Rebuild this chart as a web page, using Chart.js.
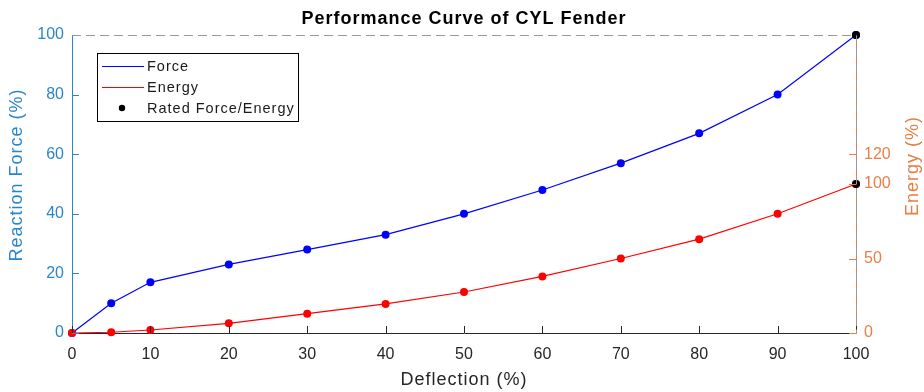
<!DOCTYPE html>
<html>
<head>
<meta charset="UTF-8">
<title>Performance Curve of CYL Fender</title>
<script src="https://cdn.jsdelivr.net/npm/chart.js"></script>
<style>
  html, body { margin: 0; padding: 0; background: #fff; }
  #wrap { position: relative; width: 924px; height: 392px; }
</style>
</head>
<body>
<div id="wrap"><canvas id="curve"></canvas></div>
<script>
// fender test data, all in % of rated values
const deflection = [0, 5, 10, 20, 30, 40, 50, 60, 70, 80, 90, 100];
const force = [0, 10, 17, 23, 28, 33, 40, 48, 57, 67, 80, 100];
const energy = [0, 0.5, 2, 6.5, 13, 19.5, 27.5, 38, 50, 63, 80, 100];
const ratedDeflection = [100];
const ratedForce = [100];
const ratedEnergy = [100];

const deflectionTicks = [0, 10, 20, 30, 40, 50, 60, 70, 80, 90, 100];
const forceTicks = [0, 20, 40, 60, 80, 100];
const energyTicks = [0, 50, 100, 120];

const FONT = "'Liberation Sans', Arial, Helvetica, sans-serif";
const LEFT_COL = '#2a86cc';
const RIGHT_COL = '#e67e45';
const AXIS_COL = '#262626';

const pts = (xs, ys) => xs.map((x, i) => ({ x: x, y: ys[i] }));

function spacedText(ctx, text, x, y, angle) {
  ctx.save();
  ctx.translate(x, y);
  ctx.rotate(angle || 0);
  ctx.letterSpacing = '1px';
  ctx.fillText(text, 0, 0);
  ctx.restore();
}

// tick marks pointing into the plot, dashed rated lines, titles, legend
const decorations = {
  id: 'decorations',
  afterDraw(chart) {
    const ctx = chart.ctx;
    const { left, right, top, bottom } = chart.chartArea;
    const sx = chart.scales.x, sy = chart.scales.y, sy1 = chart.scales.y1;
    ctx.save();
    ctx.lineWidth = 1;

    ctx.strokeStyle = AXIS_COL;
    deflectionTicks.forEach(v => {
      const px = Math.round(sx.getPixelForValue(v)) + 0.5;
      ctx.beginPath(); ctx.moveTo(px, bottom); ctx.lineTo(px, bottom - 7); ctx.stroke();
    });
    ctx.strokeStyle = LEFT_COL;
    forceTicks.forEach(v => {
      const py = Math.round(sy.getPixelForValue(v)) + 0.5;
      ctx.beginPath(); ctx.moveTo(left, py); ctx.lineTo(left + 7, py); ctx.stroke();
    });
    ctx.strokeStyle = RIGHT_COL;
    energyTicks.forEach(v => {
      const py = Math.round(sy1.getPixelForValue(v)) + 0.5;
      ctx.beginPath(); ctx.moveTo(right, py); ctx.lineTo(right - 7, py); ctx.stroke();
    });

    // dashed guides through the rated point
    const rx = Math.round(sx.getPixelForValue(ratedDeflection[0])) + 0.5;
    const ry = Math.round(sy.getPixelForValue(ratedForce[0])) + 0.5;
    ctx.strokeStyle = '#999';
    ctx.setLineDash([9, 5]);
    ctx.beginPath(); ctx.moveTo(left, ry); ctx.lineTo(rx, ry); ctx.stroke();
    ctx.beginPath(); ctx.moveTo(rx, ry); ctx.lineTo(rx, bottom); ctx.stroke();
    ctx.setLineDash([]);

    ctx.textAlign = 'center';
    ctx.textBaseline = 'middle';

    // chart title
    ctx.fillStyle = '#000';
    ctx.font = 'bold 18px ' + FONT;
    spacedText(ctx, 'Performance Curve of CYL Fender', (left + right) / 2, 19);

    // axis titles
    ctx.font = '18px ' + FONT;
    ctx.fillStyle = AXIS_COL;
    spacedText(ctx, 'Deflection (%)', (left + right) / 2, 380);
    ctx.fillStyle = LEFT_COL;
    spacedText(ctx, 'Reaction Force (%)', 17, 175, -Math.PI / 2);
    ctx.fillStyle = RIGHT_COL;
    spacedText(ctx, 'Energy (%)', 913, 166, -Math.PI / 2);

    // legend box
    const lx = 97, ly = 53, lw = 201, lh = 68;
    ctx.fillStyle = '#fff';
    ctx.fillRect(lx, ly, lw, lh);
    ctx.strokeStyle = '#000';
    ctx.strokeRect(lx + 0.5, ly + 0.5, lw, lh);
    const items = [
      { label: 'Force', color: '#0000ff', kind: 'line' },
      { label: 'Energy', color: '#ff0000', kind: 'line' },
      { label: 'Rated Force/Energy', color: '#000', kind: 'dot' }
    ];
    ctx.font = '14.5px ' + FONT;
    ctx.textAlign = 'left';
    items.forEach((it, i) => {
      const y = ly + 13 + i * 21;
      if (it.kind === 'line') {
        ctx.strokeStyle = it.color;
        ctx.beginPath(); ctx.moveTo(lx + 5, y + 0.5); ctx.lineTo(lx + 47, y + 0.5); ctx.stroke();
      } else {
        ctx.fillStyle = it.color;
        ctx.beginPath(); ctx.arc(lx + 25, y, 3.2, 0, Math.PI * 2); ctx.fill();
      }
      ctx.fillStyle = '#1a1a1a';
      spacedText(ctx, it.label, lx + 50, y + 1);
    });
    ctx.restore();
  }
};

// lower dataset index is painted on top: rated points, then energy, then force
new Chart(document.getElementById('curve'), {
  type: 'line',
  data: {
    datasets: [
      {
        label: 'Rated Force',
        data: pts(ratedDeflection, ratedForce),
        yAxisID: 'y',
        showLine: false,
        clip: false,
        backgroundColor: '#000',
        borderColor: '#000',
        pointRadius: 4,
        pointBorderWidth: 0
      },
      {
        label: 'Rated Energy',
        data: pts(ratedDeflection, ratedEnergy),
        yAxisID: 'y1',
        showLine: false,
        clip: false,
        backgroundColor: '#000',
        borderColor: '#000',
        pointRadius: 4,
        pointBorderWidth: 0
      },
      {
        label: 'Energy',
        data: pts(deflection, energy),
        yAxisID: 'y1',
        clip: false,
        borderColor: '#ff0000',
        backgroundColor: '#ff0000',
        borderWidth: 1.2,
        pointRadius: 4,
        pointBorderWidth: 0
      },
      {
        label: 'Force',
        data: pts(deflection, force),
        yAxisID: 'y',
        clip: false,
        borderColor: '#0000ff',
        backgroundColor: '#0000ff',
        borderWidth: 1.2,
        pointRadius: 4,
        pointBorderWidth: 0
      }
    ]
  },
  options: {
    responsive: true,
    maintainAspectRatio: false,
    animation: false,
    layout: { padding: { top: 35, left: 0, right: 0, bottom: 0 } },
    plugins: {
      legend: { display: false },
      title: { display: false },
      tooltip: { enabled: false }
    },
    scales: {
      x: {
        type: 'linear',
        min: 0,
        max: 100,
        afterBuildTicks: s => { s.ticks = deflectionTicks.map(v => ({ value: v })); },
        afterFit: s => { s.height = 59; },
        grid: { display: false, drawTicks: false },
        border: { color: AXIS_COL, width: 1 },
        ticks: { color: AXIS_COL, font: { family: FONT, size: 16 }, padding: 12, maxRotation: 0 }
      },
      y: {
        position: 'left',
        min: 0,
        max: 100,
        afterBuildTicks: s => { s.ticks = forceTicks.map(v => ({ value: v })); },
        afterFit: s => { s.width = 72; },
        grid: { display: false, drawTicks: false },
        border: { color: LEFT_COL, width: 1 },
        ticks: { color: LEFT_COL, font: { family: FONT, size: 16 }, padding: 8 }
      },
      y1: {
        position: 'right',
        min: 0,
        max: 200,
        afterBuildTicks: s => { s.ticks = energyTicks.map(v => ({ value: v })); },
        afterFit: s => { s.width = 68; },
        grid: { display: false, drawTicks: false },
        border: { color: RIGHT_COL, width: 1 },
        ticks: { color: RIGHT_COL, font: { family: FONT, size: 16 }, padding: 8 }
      }
    }
  },
  plugins: [decorations]
});
</script>
</body>
</html>
